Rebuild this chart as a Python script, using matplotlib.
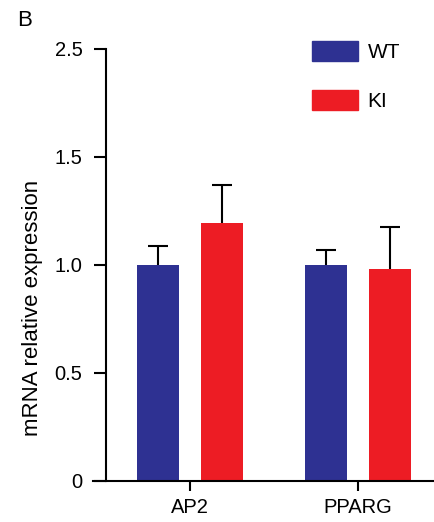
import matplotlib
matplotlib.use("Agg")
import matplotlib.pyplot as plt
import numpy as np
from matplotlib.patches import Patch

categories = ["AP2", "PPARG"]
wt_values = [1.0, 1.0]
wt_errors = [0.09, 0.07]
ki_values = [1.196, 0.981]
ki_errors = [0.174, 0.195]
ytick_pos = [0, 0.5, 1.0, 1.5, 2.0]
ytick_labels = ["0", "0.5", "1.0", "1.5", "2.5"]

WT_COLOR = "#2e3192"
KI_COLOR = "#ed1c24"

plt.rcParams['font.family'] = ['Liberation Sans', 'DejaVu Sans']

fig = plt.figure(figsize=(4.35, 5.22), dpi=100)
ax = fig.add_axes([106/435, 41/522, 1 - 106/435, 432/522])

x = np.arange(len(categories))
w = 0.25
off = (42 + 22) / 2 / 168

def upper_err(xpos, vals, errs):
    eb = ax.errorbar(xpos, vals, yerr=[np.zeros(len(errs)), errs], fmt="none",
                     ecolor="black", elinewidth=1.5, capsize=7, capthick=1.5, zorder=1)
    caps = eb[1]
    if len(caps) == 2:
        caps[0].remove()

upper_err(x - off, wt_values, wt_errors)
upper_err(x + off, ki_values, ki_errors)
ax.bar(x - off, wt_values, w, color=WT_COLOR, zorder=2)
ax.bar(x + off, ki_values, w, color=KI_COLOR, zorder=2)

ax.set_xlim(-0.5, (435 - 190) / 168)
ax.set_ylim(0, 2.0)
ax.set_yticks(ytick_pos)
ax.set_yticklabels(ytick_labels)
ax.set_xticks(x)
ax.set_xticklabels(categories)
for s in ["top", "right"]:
    ax.spines[s].set_visible(False)
ax.spines["left"].set_linewidth(1.5)
ax.spines["bottom"].set_linewidth(1.5)
ax.spines["bottom"].set_bounds(-0.5 - 13/168, (435 - 190) / 168)
ax.tick_params(axis="y", length=8.5, width=1.5, labelsize=14.5, pad=8.5)
ax.tick_params(axis="x", length=7, width=1.5, labelsize=14.5, pad=5)
ax.set_ylabel("mRNA relative expression", fontsize=16, labelpad=6)
ax.yaxis.set_label_coords(-(106 - 43) / 329 - 0.0, (481 - 308) / 432)
ax.yaxis.label.set_verticalalignment("bottom")

handles = [Patch(color=WT_COLOR, label="WT"), Patch(color=KI_COLOR, label="KI")]
ax.legend(handles=handles, loc="upper left", bbox_to_anchor=(304/435, 1 - 33/522),
          bbox_transform=fig.transFigure, frameon=False, fontsize=15,
          handlelength=2.2, handleheight=1.06, labelspacing=1.35, handletextpad=0.45,
          borderaxespad=0)

fig.text(17/435, 1 - 26/522, "B", fontsize=16)

fig.savefig("out.png", dpi=100)
